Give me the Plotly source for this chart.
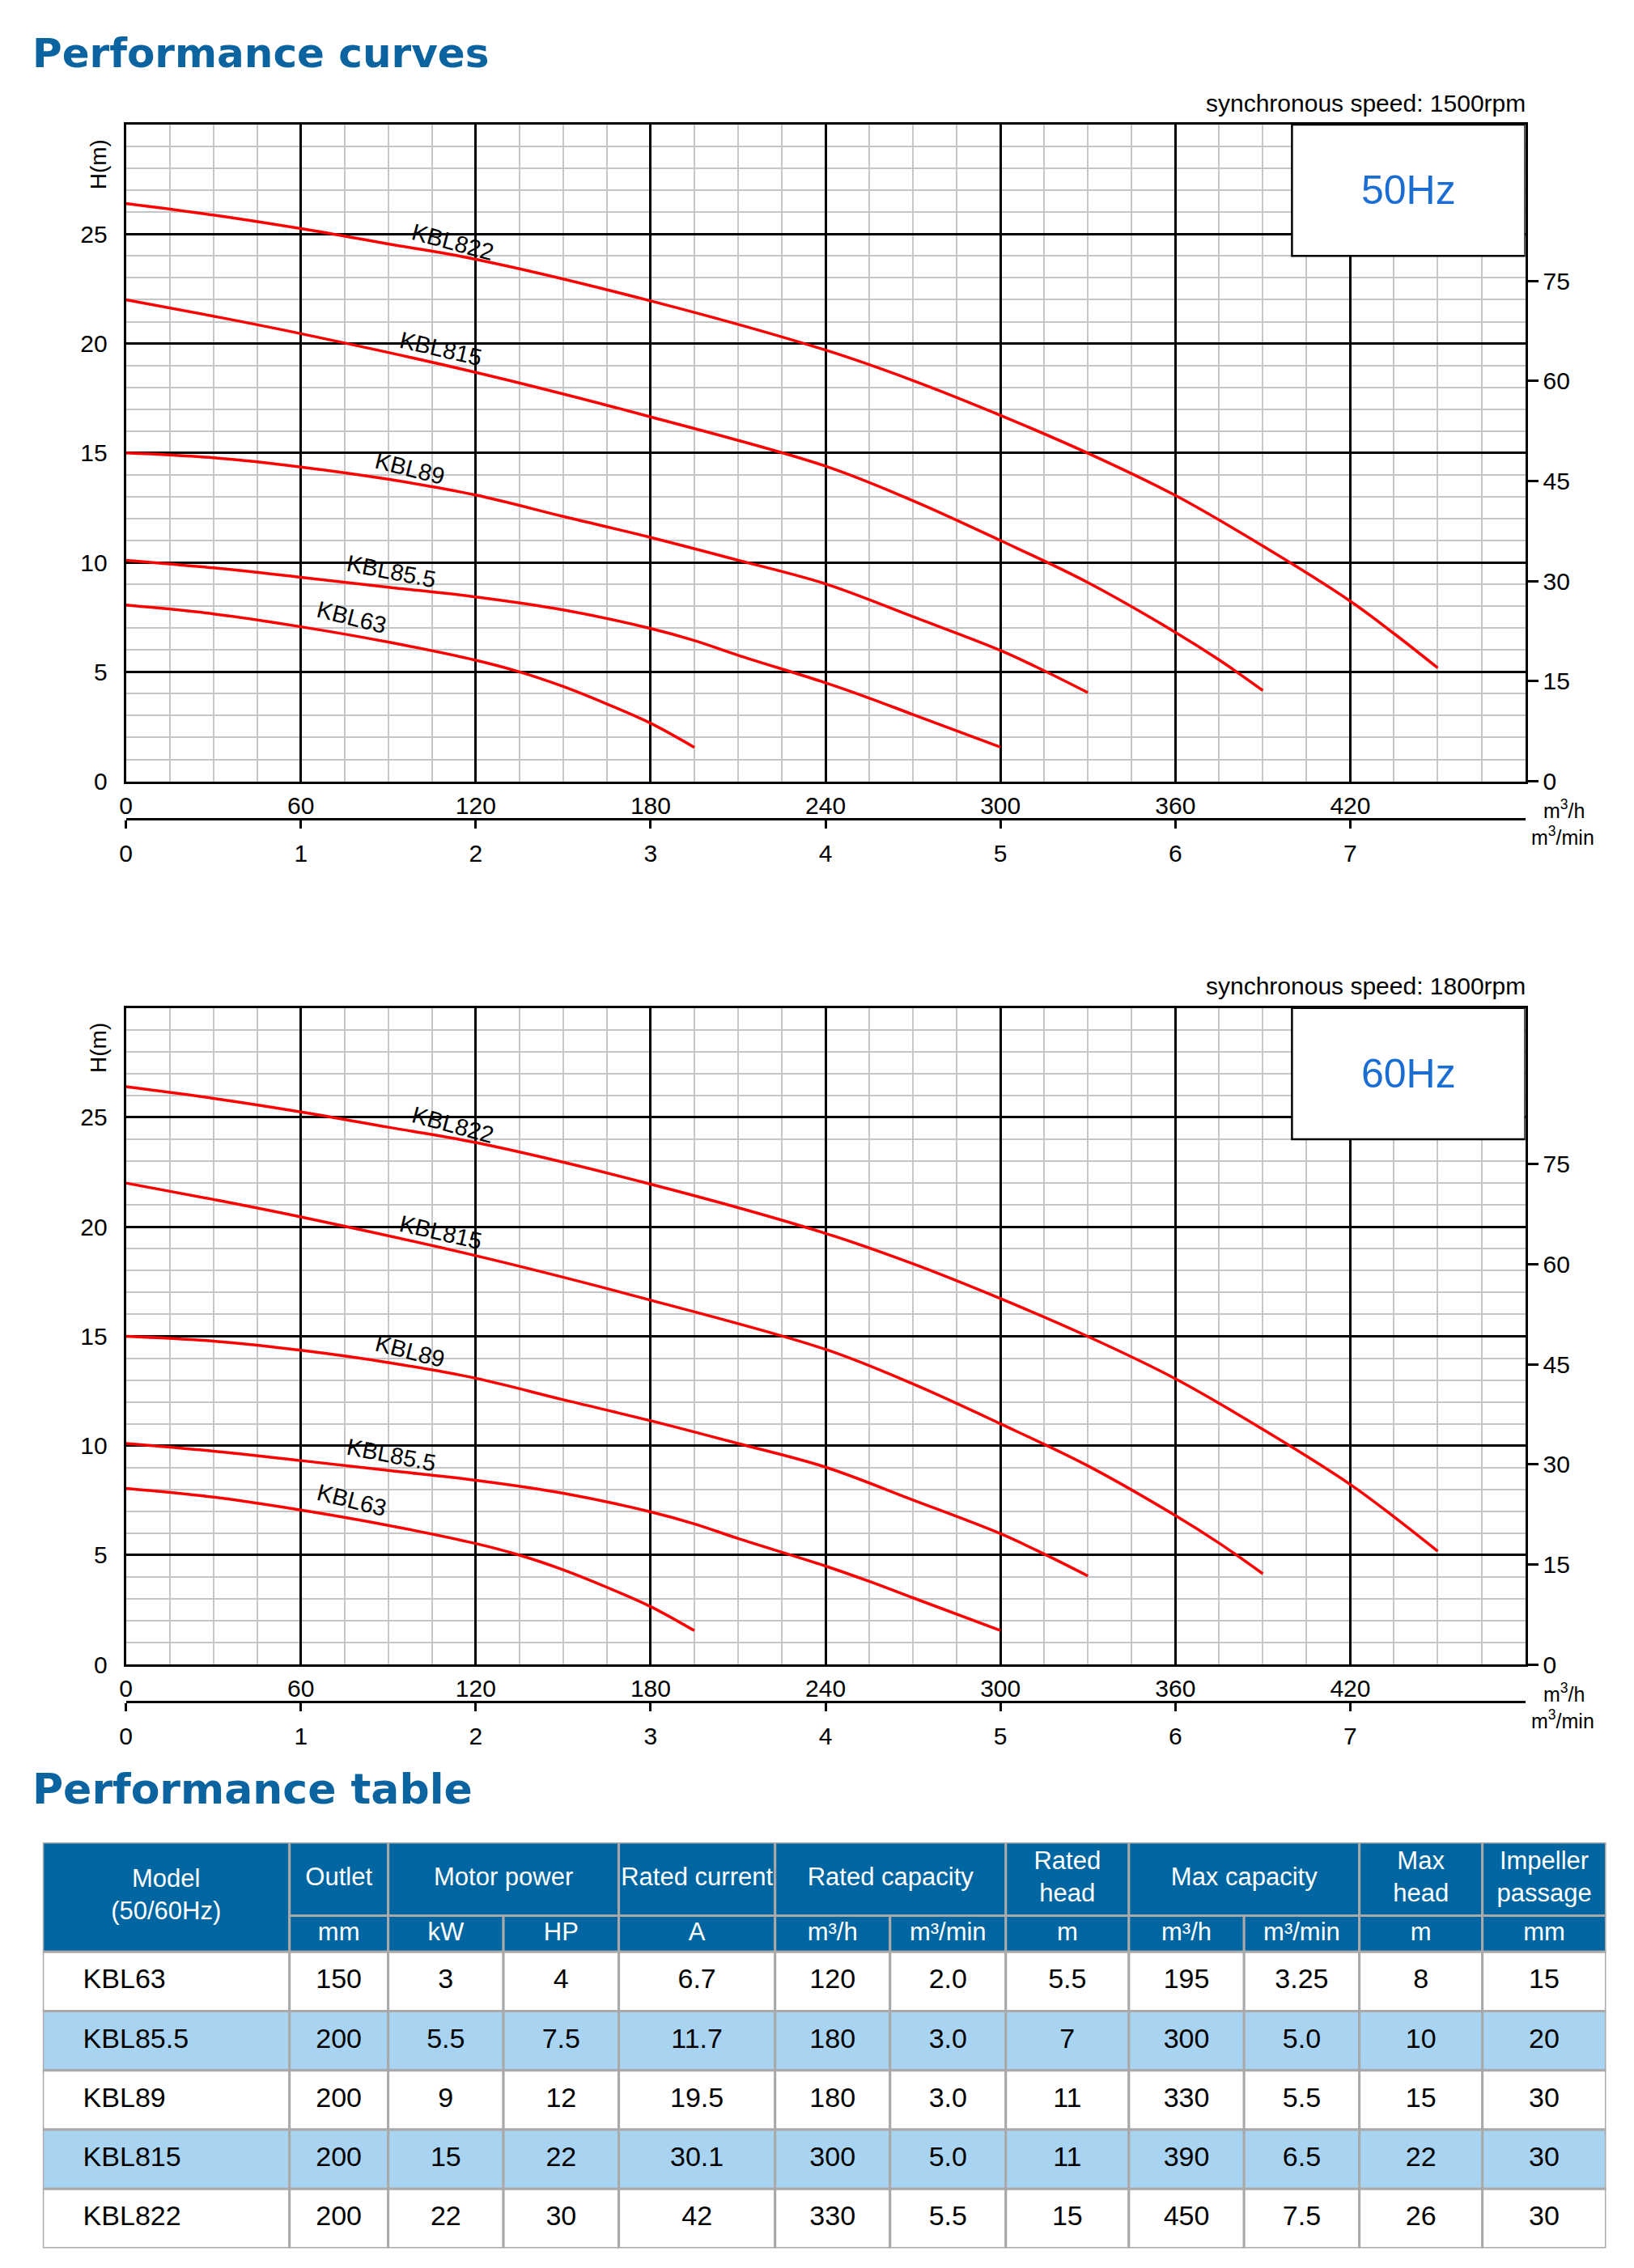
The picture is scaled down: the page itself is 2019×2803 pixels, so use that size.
import plotly.graph_objects as go

W, H = 2019, 2803

# ---------------- data: performance curves (Q m3/h, H m) ----------------
curve_models = ["KBL63", "KBL85.5", "KBL89", "KBL815", "KBL822"]
q_kbl63 = [0, 30, 60, 90, 120, 135, 150, 165, 180, 195]
h_kbl63 = [8.05, 7.65, 7.06, 6.36, 5.53, 5.0, 4.33, 3.53, 2.65, 1.55]
q_kbl855 = [0, 30, 60, 90, 120, 150, 180, 195, 210, 240, 255, 270, 300]
h_kbl855 = [10.1, 9.75, 9.32, 8.87, 8.42, 7.83, 6.98, 6.43, 5.76, 4.5, 3.8, 3.05, 1.56]
q_kbl89 = [0, 30, 60, 90, 120, 150, 180, 210, 240, 270, 300, 315, 330]
h_kbl89 = [15.0, 14.78, 14.36, 13.8, 13.08, 12.1, 11.14, 10.1, 9.02, 7.52, 5.98, 5.05, 4.05]
q_kbl815 = [0, 30, 60, 120, 180, 240, 270, 300, 330, 360, 375, 390]
h_kbl815 = [22.0, 21.25, 20.45, 18.68, 16.65, 14.4, 12.82, 11.0, 9.08, 6.81, 5.55, 4.15]
q_kbl822 = [0, 30, 60, 90, 120, 180, 240, 270, 300, 330, 360, 390, 420, 435, 450]
h_kbl822 = [26.4, 25.87, 25.25, 24.55, 23.85, 21.95, 19.7, 18.31, 16.72, 14.99, 13.06, 10.75, 8.23, 6.75, 5.18]
curve_q = [q_kbl63, q_kbl855, q_kbl89, q_kbl815, q_kbl822]
curve_h = [h_kbl63, h_kbl855, h_kbl89, h_kbl815, h_kbl822]

# curve label anchor (Q, H) and angle
label_q = [77.5, 91, 97.5, 108, 112]
label_h = [7.5, 9.6, 14.3, 19.75, 24.65]
label_angle = [14, 11, 14, 13, 15]

# axis ticks
q_ticks_m3h = [0, 60, 120, 180, 240, 300, 360, 420]
q_ticks_m3min = [0, 1, 2, 3, 4, 5, 6, 7]
h_ticks_m = [0, 5, 10, 15, 20, 25]
h_ticks_ft = [0, 15, 30, 45, 60, 75]
FT_PER_M = 3.28084

speeds = ["synchronous speed: 1500rpm", "synchronous speed: 1800rpm"]
freqs = ["50Hz", "60Hz"]

# ---------------- data: performance table ----------------
models = ["KBL63", "KBL85.5", "KBL89", "KBL815", "KBL822"]
outlet_mm = ["150", "200", "200", "200", "200"]
power_kw = ["3", "5.5", "9", "15", "22"]
power_hp = ["4", "7.5", "12", "22", "30"]
current_a = ["6.7", "11.7", "19.5", "30.1", "42"]
rated_cap_m3h = ["120", "180", "180", "300", "330"]
rated_cap_m3min = ["2.0", "3.0", "3.0", "5.0", "5.5"]
rated_head_m = ["5.5", "7", "11", "11", "15"]
max_cap_m3h = ["195", "300", "330", "390", "450"]
max_cap_m3min = ["3.25", "5.0", "5.5", "6.5", "7.5"]
max_head_m = ["8", "10", "15", "22", "26"]
impeller_mm = ["15", "20", "30", "30", "30"]
header_groups = ["Model<br>(50/60Hz)", "Outlet", "Motor power", "Rated current", "Rated capacity",
                 "Rated<br>head", "Max capacity", "Max<br>head", "Impeller<br>passage"]
group_spans = [1, 1, 2, 1, 2, 1, 2, 1, 1]
unit_labels = ["mm", "kW", "HP", "A", "m³/h", "m³/min", "m", "m³/h", "m³/min", "m", "mm"]

# ---------------- styles ----------------
FONT = "Liberation Sans, Arial, Helvetica, sans-serif"
TITLE_FONT = "DejaVu Sans, Verdana, sans-serif"
TITLE_BLUE = "#0b64a0"
HEAD_BLUE = "#0066a2"
ROW_BLUE = "#a9d4f1"
CELL_LINE = "#a9a9a9"
GRID_MINOR = "#c6c6c6"
RED = "#ff0000"
HZ_BLUE = "#1a6dd2"


def px(x):
    return x / W


def py(y):
    return 1 - y / H


PL, PR = 148.2, 1884.0
PLOT_H = 816.5
chart_tops = [155.0, 1253.3]

fig = go.Figure()
layout = {}
annotations = []
shapes = []


def lk(a):
    return ("xaxis" if a[0] == "x" else "yaxis") + a[1:]


tickfont = dict(family=FONT, size=30, color="black")

for ci, top in enumerate(chart_tops):
    bottom = top + PLOT_H
    n = 2 * ci
    xm, ym = ("x" if n == 0 else f"x{n+1}"), ("y" if n == 0 else f"y{n+1}")
    xmin, yft = f"x{n+2}", f"y{n+2}"

    layout[lk(xm)] = dict(domain=[px(PL), px(PR)], range=[0, 480], anchor=ym,
                          tickmode="array", tickvals=q_ticks_m3h, ticks="",
                          showgrid=True, gridcolor="black", gridwidth=2.5,
                          minor=dict(dtick=15, tick0=0, showgrid=True, gridcolor=GRID_MINOR, gridwidth=2),
                          showline=True, linecolor="black", linewidth=3, mirror=True,
                          zeroline=False, tickfont=tickfont, fixedrange=True, ticklabelstandoff=1)
    layout[lk(ym)] = dict(domain=[py(bottom), py(top)], range=[0, 30], anchor=xm,
                          tickmode="array", tickvals=h_ticks_m, ticks="",
                          showgrid=True, gridcolor="black", gridwidth=2.5,
                          minor=dict(dtick=1, tick0=0, showgrid=True, gridcolor=GRID_MINOR, gridwidth=2),
                          showline=True, linecolor="black", linewidth=3, mirror=True,
                          zeroline=False, tickfont=tickfont, fixedrange=True, ticklabelstandoff=14)
    layout[lk(xmin)] = dict(overlaying=xm, anchor="free", position=py(bottom + 46.5), side="bottom",
                            range=[0, 8], tickmode="array", tickvals=q_ticks_m3min,
                            ticks="outside", ticklen=10, tickwidth=2.5, tickcolor="black",
                            showline=True, linecolor="black", linewidth=3, showgrid=False,
                            zeroline=False, tickfont=tickfont, fixedrange=True, ticklabelstandoff=5)
    layout[lk(yft)] = dict(overlaying=ym, anchor=xm, side="right", range=[0, 30 * FT_PER_M],
                           tickmode="array", tickvals=h_ticks_ft, ticks="outside", ticklen=15,
                           tickwidth=2.5, tickcolor="black", showgrid=False, showline=False,
                           zeroline=False, tickfont=tickfont, fixedrange=True)

    # curves
    for name, q, h in zip(curve_models, curve_q, curve_h):
        fig.add_trace(go.Scatter(x=q, y=h, mode="lines", name=name, xaxis=xm, yaxis=ym,
                                 line=dict(color=RED, width=3.5, shape="spline", smoothing=1.0),
                                 hoverinfo="skip", showlegend=False))
    # dummy traces to bind secondary axes
    fig.add_trace(go.Scatter(x=[0], y=[0], mode="markers", marker=dict(opacity=0), xaxis=xmin, yaxis=ym,
                             hoverinfo="skip", showlegend=False))
    fig.add_trace(go.Scatter(x=[0], y=[0], mode="markers", marker=dict(opacity=0), xaxis=xm, yaxis=yft,
                             hoverinfo="skip", showlegend=False))

    # curve labels
    for name, lq, lh, ang in zip(curve_models, label_q, label_h, label_angle):
        annotations.append(dict(x=lq, y=lh, xref=xm, yref=ym, text=name, showarrow=False,
                                xanchor="center", yanchor="middle",
                                textangle=ang, font=dict(family=FONT, size=29, color="black")))

    # frequency box
    shapes.append(dict(type="rect", xref=xm, yref=ym, x0=400, x1=480, y0=24, y1=30,
                       fillcolor="white", line=dict(color="black", width=2.5), layer="above"))
    annotations.append(dict(x=440, y=27, xref=xm, yref=ym, text=freqs[ci], showarrow=False,
                            xanchor="center", yanchor="middle",
                            font=dict(family=FONT, size=50, color=HZ_BLUE)))
    # speed text
    annotations.append(dict(x=px(PR + 2), y=py(top - 27), xref="paper", yref="paper", xanchor="right",
                            yanchor="middle", text=speeds[ci], showarrow=False,
                            font=dict(family=FONT, size=30, color="black")))
    # H(m)
    annotations.append(dict(x=px(114), y=py(top + 50), xref="paper", yref="paper", textangle=-90,
                            xanchor="center", yanchor="middle",
                            text="H(m)", showarrow=False, font=dict(family=FONT, size=28, color="black")))
    # units
    annotations.append(dict(x=px(1932), y=py(bottom + 35), xref="paper", yref="paper",
                            xanchor="center", yanchor="middle",
                            text="m<sup>3</sup>/h", showarrow=False,
                            font=dict(family=FONT, size=25, color="black")))
    annotations.append(dict(x=px(1931), y=py(bottom + 68), xref="paper", yref="paper",
                            xanchor="center", yanchor="middle",
                            text="m<sup>3</sup>/min", showarrow=False,
                            font=dict(family=FONT, size=25, color="black")))

# titles
for txt, yc, fs in [("Performance curves", 66, 50), ("Performance table", 2224, 52)]:
    annotations.append(dict(x=px(30), y=py(yc), xref="paper", yref="paper", xanchor="left",
                            yanchor="middle", text=txt, showarrow=False,
                            font=dict(family=TITLE_FONT, size=fs, color=TITLE_BLUE, weight="bold")))

# ---------------- table ----------------
col_w = [306.1, 122.4, 143.0, 143.1, 193.9, 142.6, 143.6, 152.7, 142.9, 143.0, 152.6, 153.4]
head_h = [91.2, 45.0]
body_h = 73.7
edges = [0.0]
for w in col_w:
    edges.append(edges[-1] + w)
tot_w = edges[-1]
tot_h = head_h[0] + head_h[1] + body_h * len(models)
T_LEFT, T_TOP = 45.0, 2290.8

layout["xaxis5"] = dict(domain=[px(T_LEFT), px(T_LEFT + tot_w)], range=[0, tot_w], anchor="y5",
                        visible=False, fixedrange=True)
layout["yaxis5"] = dict(domain=[py(T_TOP + tot_h), py(T_TOP)], range=[tot_h, 0], anchor="x5",
                        visible=False, fixedrange=True)


def cell(x0, x1, y0, y1, fill):
    shapes.append(dict(type="rect", xref="x5", yref="y5", x0=x0, x1=x1, y0=y0, y1=y1,
                       fillcolor=fill, line=dict(color=CELL_LINE, width=3), layer="below"))


hx, hy, ht = [], [], []
c = 0
for gi, (txt, span) in enumerate(zip(header_groups, group_spans)):
    x0, x1 = edges[c], edges[c + span]
    if gi == 0:
        cell(x0, x1, 0, head_h[0] + head_h[1], HEAD_BLUE)
        hy.append((head_h[0] + head_h[1]) / 2)
    else:
        cell(x0, x1, 0, head_h[0], HEAD_BLUE)
        hy.append(head_h[0] / 2)
    hx.append((x0 + x1) / 2)
    ht.append(txt)
    c += span
for i, u in enumerate(unit_labels):
    x0, x1 = edges[i + 1], edges[i + 2]
    cell(x0, x1, head_h[0], head_h[0] + head_h[1], HEAD_BLUE)
    hx.append((x0 + x1) / 2)
    hy.append(head_h[0] + head_h[1] / 2)
    ht.append(u)

fig.add_trace(go.Scatter(x=hx, y=hy, text=ht, mode="text", xaxis="x5", yaxis="y5",
                         textfont=dict(family=FONT, size=31, color="white"),
                         textposition="middle center", hoverinfo="skip", showlegend=False,
                         cliponaxis=False))

columns = [outlet_mm, power_kw, power_hp, current_a, rated_cap_m3h, rated_cap_m3min,
           rated_head_m, max_cap_m3h, max_cap_m3min, max_head_m, impeller_mm]
bx, by, bt = [], [], []
mx, my = [], []
for r, m in enumerate(models):
    y0 = head_h[0] + head_h[1] + r * body_h
    fill = "white" if r % 2 == 0 else ROW_BLUE
    for j in range(len(col_w)):
        cell(edges[j], edges[j + 1], y0, y0 + body_h, fill)
    mx.append(edges[0] + 50)
    my.append(y0 + body_h / 2)
    for j, col in enumerate(columns):
        bx.append((edges[j + 1] + edges[j + 2]) / 2)
        by.append(y0 + body_h / 2)
        bt.append(col[r])

fig.add_trace(go.Scatter(x=mx, y=my, text=models, mode="text", xaxis="x5", yaxis="y5",
                         textfont=dict(family=FONT, size=34, color="black"),
                         textposition="middle right", hoverinfo="skip", showlegend=False,
                         cliponaxis=False))
fig.add_trace(go.Scatter(x=bx, y=by, text=bt, mode="text", xaxis="x5", yaxis="y5",
                         textfont=dict(family=FONT, size=34, color="black"),
                         textposition="middle center", hoverinfo="skip", showlegend=False,
                         cliponaxis=False))

fig.update_layout(width=W, height=H, margin=dict(l=0, r=0, t=0, b=0),
                  paper_bgcolor="white", plot_bgcolor="white", hovermode=False,
                  showlegend=False, annotations=annotations, shapes=shapes, **layout)

fig.write_html("out.html", config={"displayModeBar": False},
               post_script="document.body.style.margin='0px';document.body.style.overflow='hidden';")
